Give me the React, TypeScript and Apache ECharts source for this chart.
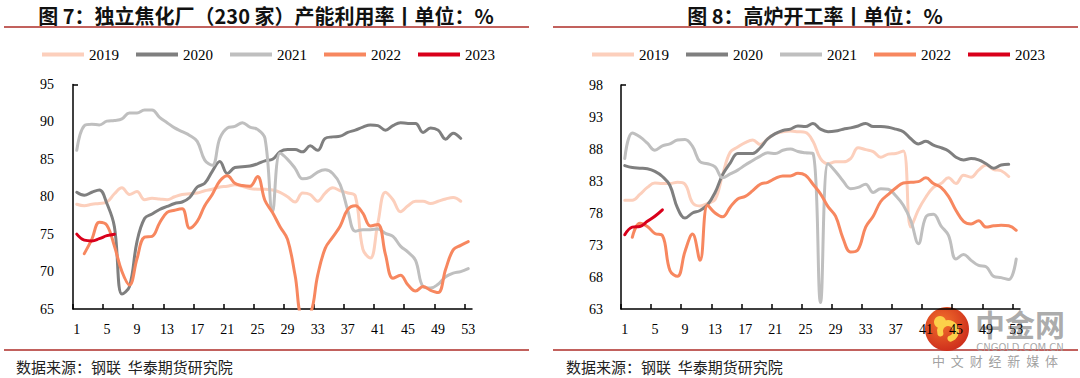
import React, { useEffect, useRef } from "react";
import * as echarts from "echarts";

// ---------- data ----------
const years = ["2019", "2020", "2021", "2022", "2023"];

// x-axis tick labels (weeks) and tick boundaries
const weekLabels = [1, 5, 9, 13, 17, 21, 25, 29, 33, 37, 41, 45, 49, 53];
const weekTickBounds = [0.5, 4.5, 8.5, 12.5, 16.5, 20.5, 24.5, 28.5, 32.5, 36.5, 40.5, 44.5, 48.5, 52.5];

// Chart 7: independent coking plants (230) capacity utilisation, weekly
const coke2019 = [79.0, 78.8, 79.0, 79.1, 79.3, 80.4, 81.2, 80.3, 80.7, 79.6, 79.8, 79.7, 79.6, 80.0, 80.3, 80.4, 80.5, 80.8, 81.0, 81.3, 81.4, 81.6, 81.4, 81.1, 81.0, 81.0, 80.9, 80.6, 80.0, 79.3, 80.5, 80.3, 79.4, 80.5, 81.2, 80.8, 80.5, 80.1, 73.0, 71.8, 76.5, 80.6, 79.6, 78.0, 78.8, 79.4, 79.4, 79.1, 79.4, 79.7, 79.9, 79.4];
const coke2020 = [80.6, 80.2, 80.6, 80.9, 79.1, 76.0, 67.0, 68.0, 74.0, 77.1, 77.7, 78.3, 78.7, 79.1, 79.3, 79.9, 81.3, 81.8, 83.4, 84.7, 83.1, 83.9, 84.0, 84.1, 84.4, 84.8, 85.0, 86.0, 86.3, 86.3, 86.0, 86.8, 86.2, 87.8, 88.0, 88.1, 88.6, 88.9, 89.3, 89.6, 89.5, 88.9, 89.5, 89.9, 89.8, 89.8, 88.6, 89.2, 88.9, 87.7, 88.5, 87.8];
const coke2021 = [86.2, 89.5, 89.7, 89.6, 90.1, 90.2, 90.4, 91.2, 91.2, 91.6, 91.6, 90.6, 89.9, 89.2, 88.7, 88.2, 87.4, 84.9, 84.2, 87.8, 89.2, 89.4, 89.9, 89.3, 89.0, 87.8, 78.0, 85.8, 85.0, 83.8, 82.4, 82.6, 83.3, 83.6, 83.1, 81.6, 78.2, 75.4, 75.6, 75.6, 75.7, 75.1, 74.7, 73.4, 72.6, 71.5, 68.0, 67.8, 68.3, 69.3, 69.8, 70.0, 70.4];
const coke2022 = [null, 72.4, 74.3, 76.6, 76.2, 73.4, 70.0, 68.2, 71.7, 74.6, 74.7, 76.5, 77.9, 78.2, 78.4, 75.8, 76.7, 78.8, 80.3, 82.1, 82.8, 81.8, 81.5, 81.4, 82.7, 79.5, 77.9, 76.0, 74.3, 69.5, 64.0, 64.3, 69.5, 73.1, 74.6, 76.1, 78.3, 78.8, 77.8, 76.1, 76.3, 72.3, 69.1, 69.5, 68.2, 67.4, 68.0, 67.5, 67.2, 70.3, 72.9, 73.5, 74.0];
const coke2023 = [75.0, 74.2, 74.1, 74.4, 74.8, 75.0];

// Chart 8: blast furnace operating rate, weekly
const bf2019 = [80.0, 80.0, 80.9, 82.0, 82.7, 82.6, 82.6, 82.8, 82.5, 79.6, 79.1, 79.5, 80.1, 84.0, 87.5, 88.3, 89.0, 89.4, 88.7, 89.6, 90.4, 90.7, 90.8, 90.7, 90.6, 89.2, 86.5, 85.7, 86.0, 86.0, 86.5, 88.2, 87.9, 87.6, 86.7, 87.2, 87.3, 87.7, 75.8, 78.5, 80.5, 82.0, 82.6, 83.5, 82.6, 83.9, 83.6, 84.7, 85.5, 84.8, 84.6, 83.7];
const bf2020 = [85.4, 85.1, 85.0, 84.9, 84.5, 83.7, 82.3, 78.8, 77.2, 78.0, 78.4, 79.3, 81.2, 84.0, 85.8, 87.3, 87.3, 87.3, 88.2, 89.6, 90.4, 90.9, 91.1, 91.6, 91.5, 92.0, 91.1, 90.7, 90.8, 91.1, 91.3, 91.6, 92.0, 91.5, 91.5, 91.4, 91.1, 90.7, 89.6, 88.8, 89.2, 88.6, 88.2, 87.7, 86.7, 86.3, 86.5, 86.3, 85.7, 85.0, 85.5, 85.6];
const bf2021 = [86.5, 90.5, 89.9, 88.9, 87.8, 88.5, 88.8, 89.4, 89.5, 88.4, 86.0, 85.7, 85.2, 83.5, 84.1, 84.7, 85.5, 86.2, 86.9, 87.4, 87.3, 87.8, 88.0, 87.6, 87.4, 87.3, 64.0, 85.7, 84.5, 83.0, 81.8, 82.0, 82.5, 81.2, 81.8, 81.7, 80.7, 79.2, 76.8, 73.2, 77.4, 77.8, 76.0, 74.5, 70.8, 71.5, 70.6, 69.8, 69.6, 68.1, 67.9, 67.6, 70.8];
const bf2022 = [null, 74.2, 76.4, 75.9, 74.8, 74.5, 69.0, 68.1, 72.0, 74.7, 70.6, 79.2, 78.0, 77.4, 78.9, 80.2, 80.6, 81.5, 82.5, 82.8, 83.4, 83.8, 83.8, 84.2, 83.9, 82.5, 81.0, 79.0, 77.5, 74.0, 71.9, 72.3, 75.8, 77.5, 79.8, 80.9, 81.9, 82.7, 82.8, 82.9, 83.5, 82.6, 82.0, 80.6, 78.4, 76.7, 76.3, 76.8, 75.8, 76.0, 76.1, 76.0, 75.3];
const bf2023 = [74.6, 75.8, 75.9, 76.7, 77.5, 78.5];

const cokeYTicks = [65, 70, 75, 80, 85, 90, 95];
const bfYTicks = [63, 68, 73, 78, 83, 88, 93, 98];

const title7 = "图 7：独立焦化厂（230 家）产能利用率丨单位：%";
const title8 = "图 8：高炉开工率丨单位：%";
const sourceText = "数据来源：钢联  华泰期货研究院";

// ---------- styles ----------
const lineColors = ["#fccfbc", "#7f7f7f", "#bfbfbf", "#f7875f", "#d9001b"];
const serif = "Liberation Serif";
const cjk = "Noto Sans CJK SC";
const ruleColor = "#c2615d";

function toPairs(arr: (number | null)[]) {
  const out: [number, number][] = [];
  arr.forEach((v, i) => {
    if (v !== null && v !== undefined) out.push([i + 1, v]);
  });
  return out;
}

export default function App() {
  const ref = useRef<HTMLDivElement>(null);

  useEffect(() => {
    if (!ref.current) return;
    const chart = echarts.init(ref.current, null, { renderer: "svg" });

    const cokeData = [coke2019, coke2020, coke2021, coke2022, coke2023];
    const bfData = [bf2019, bf2020, bf2021, bf2022, bf2023];

    const makeSeries = (sets: (number | null)[][], idx: number) =>
      sets.map((arr, k) => ({
        type: "line",
        name: years[k],
        xAxisIndex: idx,
        yAxisIndex: idx,
        data: toPairs(arr),
        smooth: 0.4,
        symbol: "none",
        clip: true,
        z: 2 + k,
        lineStyle: { width: 3, color: lineColors[k], cap: "round", join: "round" },
        itemStyle: { color: lineColors[k] },
      }));

    const xAxisBase = (gridIndex: number) => ({
      type: "value",
      gridIndex,
      min: 0.5,
      max: 53.5,
      axisLine: { show: true, lineStyle: { color: "#000", width: 1.5 } },
      axisTick: {
        show: true,
        inside: true,
        length: 5,
        customValues: weekTickBounds,
        lineStyle: { color: "#000", width: 1.5 },
      },
      axisLabel: {
        customValues: weekLabels,
        fontFamily: serif,
        fontSize: 14,
        color: "#000",
        margin: 13,
      },
      splitLine: { show: false },
    });

    const legendBase = (left: number) => ({
      left,
      top: 42,
      data: years,
      icon: "rect",
      itemWidth: 42,
      itemHeight: 4,
      itemGap: 17,
      selectedMode: false,
      textStyle: { fontFamily: serif, fontSize: 15, color: "#000" },
    });

    const option: any = {
      animation: false,
      backgroundColor: "#fff",
      grid: [
        { left: 73, top: 84.5, width: 399, height: 224.5, containLabel: false },
        { left: 621, top: 85, width: 399, height: 224, containLabel: false },
      ],
      legend: [legendBase(37), legendBase(587)],
      xAxis: [xAxisBase(0), xAxisBase(1)],
      yAxis: [
        {
          type: "value",
          gridIndex: 0,
          min: 65,
          max: 95,
          interval: 5,
          axisLine: { show: true, lineStyle: { color: "#000", width: 1.5 } },
          axisTick: { show: true, inside: true, length: 5, customValues: [95], lineStyle: { color: "#000", width: 1.5 } },
          axisLabel: { customValues: cokeYTicks, fontFamily: serif, fontSize: 14, color: "#000", margin: 19 },
          splitLine: { show: false },
        },
        {
          type: "value",
          gridIndex: 1,
          min: 63,
          max: 98,
          axisLine: { show: true, lineStyle: { color: "#000", width: 1.5 } },
          axisTick: { show: true, inside: true, length: 5, customValues: [98], lineStyle: { color: "#000", width: 1.5 } },
          axisLabel: { customValues: bfYTicks, fontFamily: serif, fontSize: 14, color: "#000", margin: 18 },
          splitLine: { show: false },
        },
      ],
      series: [...makeSeries(cokeData, 0), ...makeSeries(bfData, 1)],
      graphic: [
        { type: "line", shape: { x1: 4, y1: 27, x2: 529, y2: 27 }, style: { stroke: ruleColor, lineWidth: 2 } },
        { type: "line", shape: { x1: 553, y1: 27, x2: 1078, y2: 27 }, style: { stroke: ruleColor, lineWidth: 2 } },
        { type: "line", shape: { x1: 4, y1: 350, x2: 529, y2: 350 }, style: { stroke: ruleColor, lineWidth: 2 } },
        { type: "line", shape: { x1: 553, y1: 350, x2: 1078, y2: 350 }, style: { stroke: ruleColor, lineWidth: 2 } },
        {
          type: "text",
          x: 266,
          y: 15,
          style: { text: title7, align: "center", verticalAlign: "middle", fontFamily: cjk, fontWeight: "bold", fontSize: 20, fill: "#111" },
        },
        {
          type: "text",
          x: 815,
          y: 15,
          style: { text: title8, align: "center", verticalAlign: "middle", fontFamily: cjk, fontWeight: "bold", fontSize: 20, fill: "#111" },
        },
        {
          type: "text",
          x: 16,
          y: 366,
          style: { text: sourceText, align: "left", verticalAlign: "middle", fontFamily: cjk, fontSize: 15, fill: "#222" },
        },
        {
          type: "text",
          x: 566,
          y: 366,
          style: { text: sourceText, align: "left", verticalAlign: "middle", fontFamily: cjk, fontSize: 15, fill: "#222" },
        },
        // watermark
        {
          type: "group",
          z: 100,
          children: [
            {
              type: "circle",
              shape: { cx: 947, cy: 329, r: 22 },
              style: {
                fill: new echarts.graphic.RadialGradient(0.4, 0.35, 0.75, [
                  { offset: 0, color: "#f2702c" },
                  { offset: 1, color: "#c9261a" },
                ]),
              },
            },
            {
              type: "arc",
              shape: { cx: 948, cy: 331, r: 8, startAngle: Math.PI * 0.9, endAngle: Math.PI * 2.4 },
              style: { stroke: "#fcd04a", lineWidth: 6, fill: null, lineCap: "round" },
            },
            { type: "circle", shape: { cx: 940, cy: 322, r: 6 }, style: { fill: "#fcd04a" } },
            {
              type: "text",
              x: 1020,
              y: 323,
              style: { text: "中金网", align: "center", verticalAlign: "middle", fontFamily: cjk, fontWeight: "bold", fontSize: 30, fill: "rgba(150,150,150,0.8)" },
            },
            {
              type: "text",
              x: 1020,
              y: 347,
              style: { text: "CNGOLD.COM.CN", align: "center", verticalAlign: "middle", fontFamily: "DejaVu Sans", fontSize: 10, fill: "rgba(160,160,160,0.9)" },
            },
            {
              type: "text",
              x: 995,
              y: 360,
              style: { text: "中  文  财  经  新  媒  体", align: "center", verticalAlign: "middle", fontFamily: cjk, fontSize: 13, fill: "rgba(150,150,150,0.9)" },
            },
          ],
        },
      ],
    };

    chart.setOption(option);
    return () => chart.dispose();
  }, []);

  return (
    <div
      ref={ref}
      style={{ position: "fixed", left: 0, top: 0, width: 1080, height: 378, background: "#fff" }}
    />
  );
}
